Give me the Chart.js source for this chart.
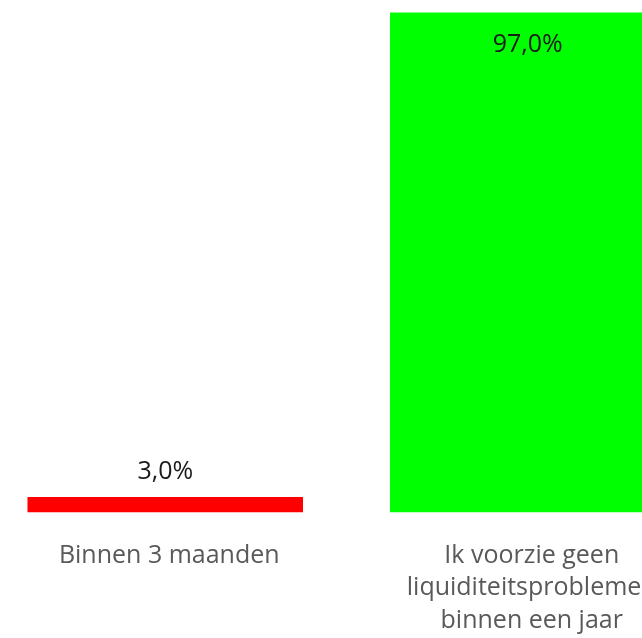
<!DOCTYPE html>
<html lang="nl">
<head>
    <meta charset="UTF-8">
    <title>Liquiditeit</title>
    <style>
        html, body {
            margin: 0;
            padding: 0;
            background: #ffffff;
            overflow: hidden;
        }
        .wrap {
            position: relative;
            width: 642px;
            height: 638px;
            overflow: hidden;
        }
        #chart {
            position: absolute;
            left: -16px;
            top: -3px;
        }
    </style>
</head>
<body>
    <div class="wrap">
        <canvas id="chart" width="725" height="667"></canvas>
    </div>
    <script src="https://cdn.jsdelivr.net/npm/chart.js"></script>
    <script>
        const categories = [
            ['Binnen 3 maanden'],
            ['Ik voorzie geen', 'liquiditeitsproblemen', 'binnen een jaar']
        ];
        const values = [3.0, 97.0];
        const barColors = ['#ff0000', '#00ff00'];

        // waardelabels boven of in de balk tekenen
        const valueLabels = {
            id: 'valueLabels',
            afterDatasetsDraw(chart) {
                const ctx = chart.ctx;
                const meta = chart.getDatasetMeta(0);
                ctx.save();
                ctx.font = '25px "Open Sans", sans-serif';
                ctx.fillStyle = '#1a1a1a';
                ctx.textAlign = 'center';
                ctx.textBaseline = 'middle';
                meta.data.forEach((bar, i) => {
                    const text = values[i].toFixed(1).replace('.', ',') + '%';
                    let y = bar.y - 25;
                    if (y < chart.chartArea.top + 20) {
                        y = bar.y + 32;
                    }
                    ctx.fillText(text, bar.x, y);
                });
                ctx.restore();
            }
        };

        new Chart(document.getElementById('chart'), {
            type: 'bar',
            data: {
                labels: categories,
                datasets: [{
                    data: values,
                    backgroundColor: barColors,
                    borderWidth: 0,
                    categoryPercentage: 1,
                    barPercentage: 0.76
                }]
            },
            options: {
                responsive: false,
                animation: false,
                layout: { padding: 0 },
                plugins: {
                    legend: { display: false },
                    tooltip: { enabled: false }
                },
                scales: {
                    x: {
                        grid: { display: false, drawTicks: false },
                        border: { display: false },
                        ticks: {
                            color: '#595959',
                            padding: 27,
                            labelOffset: 4,
                            maxRotation: 0,
                            font: { family: '"Open Sans", sans-serif', size: 25, lineHeight: 1.3 }
                        }
                    },
                    y: {
                        display: false,
                        min: 0,
                        max: 100
                    }
                }
            },
            plugins: [valueLabels]
        });
    </script>
</body>
</html>
